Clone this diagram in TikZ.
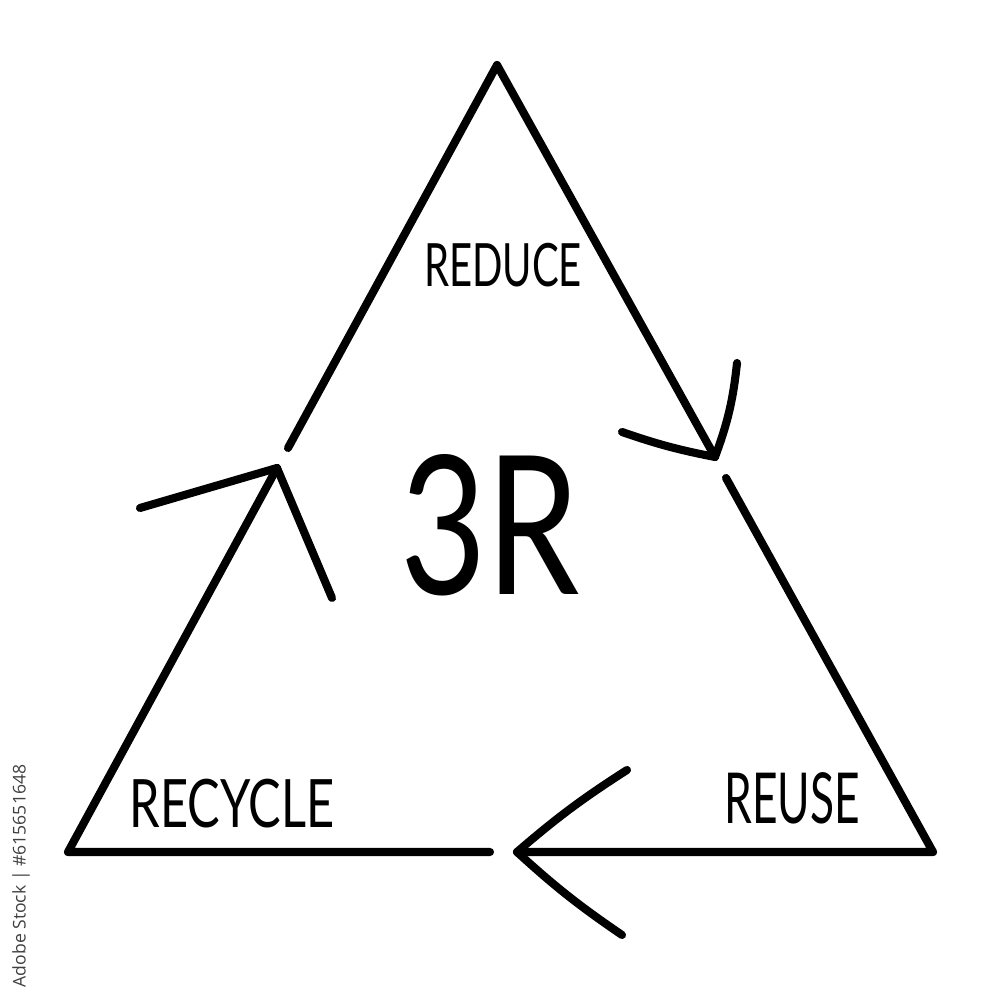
\documentclass[tikz,border=0pt]{standalone}
\usepackage{fontspec}
\setmainfont{Lato}
\newfontfamily\markfont{Open Sans}
\tikzset{
  word/.style={inner sep=0pt, font=\fontsize{17}{17}\selectfont},
  wing/.style={line width=2.3pt, line cap=round},
}
\begin{document}
\begin{tikzpicture}[line width=2.3pt, line cap=round, line join=round]
  \useasboundingbox (0,0) rectangle (10,10);

  % corners of the triangle
  \coordinate (top) at (4.97,9.35);
  \coordinate (bl) at (0.68,1.48);
  \coordinate (br) at (9.33,1.48);

  % arrow tips and the ends beside the gaps
  \coordinate (tipL) at (2.77,5.32);
  \coordinate (gapL) at (2.88,5.52);
  \coordinate (tipR) at (7.15,5.43);
  \coordinate (gapR) at (7.26,5.22);
  \coordinate (tipB) at (5.17,1.48);
  \coordinate (gapB) at (4.90,1.48);

  % sides
  \draw (gapL) -- (top) -- (tipR);
  \draw (gapR) -- (br) -- (tipB);
  \draw (gapB) -- (bl) -- (tipL);

  % arrow heads
  \draw[wing] (tipL) -- (1.40,4.92);
  \draw[wing] (tipL) -- (3.32,4.02);
  \draw[wing] (tipR) to[bend left=4] (6.22,5.68);
  \draw[wing] (tipR) to[bend right=7] (7.37,6.37);
  \draw[wing] (tipB) to[bend left=4] (6.27,2.30);
  \draw[wing] (tipB) to[bend right=4] (6.22,0.65);

  \node[word, xscale=0.67] (reduce) at (5.03,7.35) {REDUCE};
  \node[word, xscale=0.73, font=\fontsize{19}{19}\selectfont] (recycle) at (2.32,1.96) {RECYCLE};
  \node[word, xscale=0.63, font=\fontsize{20}{20}\selectfont] (reuse) at (7.92,2.02) {REUSE};
  \node[word, xscale=0.77, font=\fontsize{55}{55}\selectfont] (three) at (4.90,4.75) {3R};

  \node[rotate=90, inner sep=0pt, text=black!75, font=\markfont\fontsize{5}{5}\selectfont] (mark) at (0.21,1.24) {Adobe Stock | \#615651648};
\end{tikzpicture}
\end{document}
